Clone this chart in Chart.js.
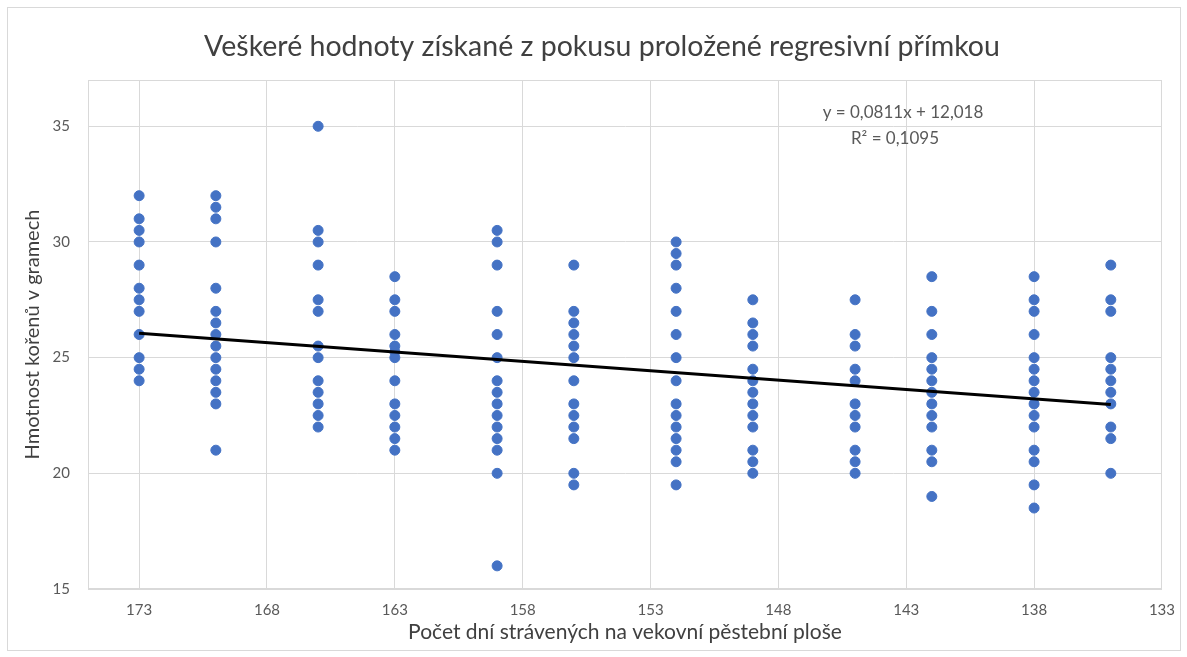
<!DOCTYPE html>
<html>
<head>
<meta charset="utf-8">
<style>
  html, body { margin: 0; padding: 0; background: #fff; }
  #wrap { position: relative; width: 1187px; height: 657px; }
  #frame { position: absolute; left: 7px; top: 7px; width: 1172px; height: 642px; border: 1px solid #d9d9d9; pointer-events: none; }
</style>
</head>
<body>
<div id="wrap">
  <canvas id="chart" width="1187" height="657"></canvas>
  <div id="frame"></div>
</div>
<script src="https://cdn.jsdelivr.net/npm/chart.js@4/dist/chart.umd.min.js"></script>
<script>
// days spent on the growing area (x) and root weights measured for each day (y)
var days = [173, 170, 166, 163, 159, 156, 152, 149, 145, 142, 138, 135];
var weights = [
  [32, 31, 30.5, 30, 29, 28, 27.5, 27, 26, 25, 24.5, 24],
  [32, 31.5, 31, 30, 28, 27, 26.5, 26, 25.5, 25, 24.5, 24, 23.5, 23, 21],
  [35, 30.5, 30, 29, 27.5, 27, 25.5, 25, 24, 23.5, 23, 22.5, 22],
  [28.5, 27.5, 27, 26, 25.5, 25.25, 25, 24, 23, 22.5, 22, 21.5, 21],
  [30.5, 30, 29, 27, 26, 25, 24, 23.5, 23, 22.5, 22, 21.5, 21, 20, 16],
  [29, 27, 26.5, 26, 25.5, 25, 24, 23, 22.5, 22, 21.5, 20, 19.5],
  [30, 29.5, 29, 28, 27, 26, 25, 24, 23, 22.5, 22, 21.5, 21, 20.5, 19.5],
  [27.5, 26.5, 26, 25.5, 24.5, 24, 23.5, 23, 22.5, 22, 21, 20.5, 20],
  [27.5, 26, 25.5, 24.5, 24, 23, 22.5, 22, 21, 20.5, 20],
  [28.5, 27, 26, 25, 24.5, 24, 23.5, 23, 22.5, 22, 21, 20.5, 19],
  [28.5, 27.5, 27, 26, 25, 24.5, 24, 23.5, 23, 22.5, 22, 21, 20.5, 19.5, 18.5],
  [29, 27.5, 27, 25, 24.5, 24, 23.5, 23, 22, 21.5, 20]
];
// trend line end points
var trendX = [173, 135];
var trendY = [26.05, 22.97];
var xTicks = [173, 168, 163, 158, 153, 148, 143, 138, 133];
var yTicks = [15, 20, 25, 30, 35];
var equation = ['y = 0,0811x + 12,018', 'R² = 0,1095'];

var FONT = 'Lato, "Open Sans", sans-serif';

var points = [];
for (var i = 0; i < days.length; i++) {
  for (var j = 0; j < weights[i].length; j++) {
    points.push({x: days[i], y: weights[i][j]});
  }
}
var trend = trendX.map(function (x, k) { return {x: x, y: trendY[k]}; });

// gray frame round the plot area
var plotBorder = {
  id: 'plotBorder',
  beforeDatasetsDraw: function (chart) {
    var a = chart.chartArea, ctx = chart.ctx;
    ctx.save();
    ctx.strokeStyle = '#d9d9d9';
    ctx.lineWidth = 1;
    ctx.strokeRect(a.left + 0.5, a.top + 0.5, a.right - a.left - 1, a.bottom - a.top - 1);
    ctx.restore();
  }
};

// regression equation label
var eqLabel = {
  id: 'eqLabel',
  afterDraw: function (chart) {
    var ctx = chart.ctx;
    ctx.save();
    ctx.fillStyle = '#595959';
    ctx.font = '17px ' + FONT;
    ctx.textAlign = 'center';
    ctx.textBaseline = 'middle';
    ctx.fillText(equation[0], 903, 113);
    ctx.fillText(equation[1], 895, 139);
    ctx.restore();
  }
};

var ctx = document.getElementById('chart').getContext('2d');
var chart = new Chart(ctx, {
  type: 'scatter',
  data: {
    datasets: [{
      type: 'line',
      label: 'trend',
      data: trend,
      borderColor: '#000000',
      borderWidth: 3,
      pointRadius: 0,
      fill: false
    }, {
      label: 'weights',
      data: points,
      backgroundColor: '#4472C4',
      borderColor: '#4472C4',
      pointRadius: 5,
      pointBorderWidth: 1
    }]
  },
  options: {
    responsive: false,
    animation: false,
    layout: { padding: { left: 38, right: 21, top: 0, bottom: 0 } },
    plugins: {
      legend: { display: false },
      tooltip: { enabled: false },
      title: {
        display: true,
        text: 'Veškeré hodnoty získané z pokusu proložené regresivní přímkou',
        color: '#404040',
        font: { family: FONT, size: 28.5, weight: 'normal' },
        padding: { top: 30, bottom: 15.8 }
      }
    },
    scales: {
      x: {
        type: 'linear',
        reverse: true,
        min: 133,
        max: 175,
        afterBuildTicks: function (s) { s.ticks = xTicks.map(function (v) { return {value: v}; }); },
        afterFit: function (s) { s.height = 68; },
        grid: { color: '#d9d9d9', drawTicks: false },
        border: { display: true, color: '#d9d9d9' },
        ticks: { color: '#595959', font: { family: FONT, size: 15 }, padding: 12 },
        title: {
          display: true,
          text: 'Počet dní strávených na vekovní pěstební ploše',
          color: '#404040',
          font: { family: FONT, size: 21 },
          padding: { top: 0, bottom: 12.4 }
        }
      },
      y: {
        min: 15,
        max: 37,
        afterBuildTicks: function (s) { s.ticks = yTicks.map(function (v) { return {value: v}; }); },
        afterFit: function (s) { s.width = 50; },
        grid: { color: '#d9d9d9', drawTicks: false },
        border: { display: true, color: '#d9d9d9' },
        ticks: { color: '#595959', font: { family: FONT, size: 15 }, padding: 18 },
        title: {
          display: true,
          text: 'Hmotnost kořenů v gramech',
          color: '#404040',
          font: { family: FONT, size: 20 },
          padding: { top: -17, bottom: 0 }
        }
      }
    }
  },
  plugins: [plotBorder, eqLabel]
});
</script>
</body>
</html>
